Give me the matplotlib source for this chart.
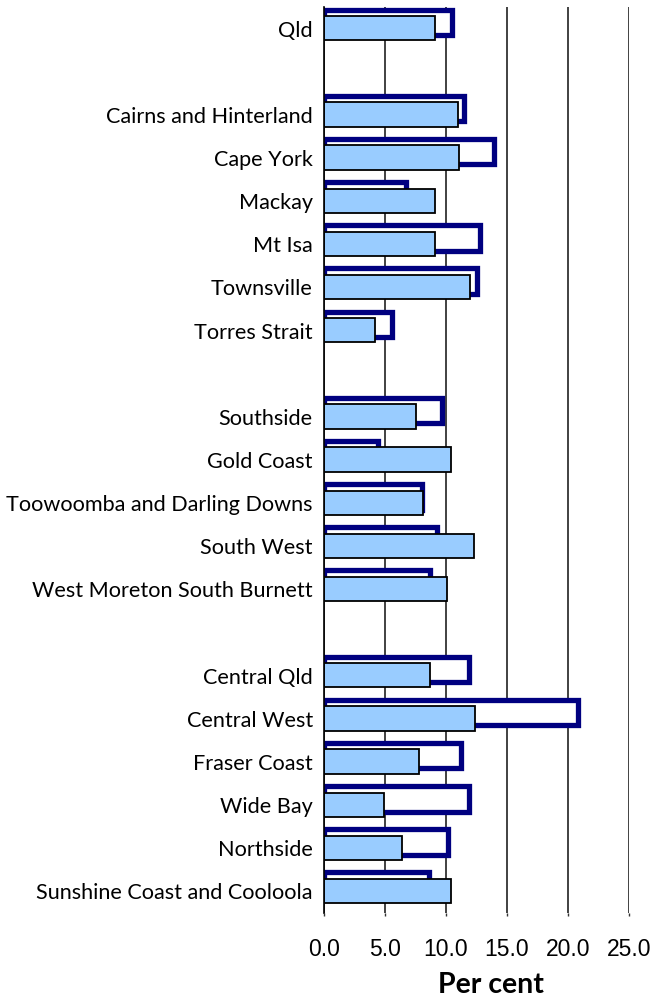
import numpy as np
import matplotlib.pyplot as plt

# groups of districts, separated by a blank row in the chart
groups = [
    ["Qld"],
    ["Cairns and Hinterland", "Cape York", "Mackay", "Mt Isa", "Townsville", "Torres Strait"],
    ["Southside", "Gold Coast", "Toowoomba and Darling Downs", "South West",
     "West Moreton South Burnett"],
    ["Central Qld", "Central West", "Fraser Coast", "Wide Bay", "Northside",
     "Sunshine Coast and Cooloola"],
]
# outlined (navy) series
outline_vals = [
    [10.5],
    [11.5, 13.9, 6.7, 12.8, 12.5, 5.6],
    [9.7, 4.4, 8.0, 9.3, 8.7],
    [11.85, 20.8, 11.2, 11.85, 10.2, 8.6],
]
# filled (light blue) series
filled_vals = [
    [9.1],
    [11.0, 11.1, 9.1, 9.1, 12.0, 4.2],
    [7.5, 10.4, 8.1, 12.3, 10.1],
    [8.7, 12.4, 7.8, 4.9, 6.4, 10.4],
]

labels, pos, v_out, v_fill = [], [], [], []
p = 0
for g, o, f in zip(groups, outline_vals, filled_vals):
    for lab, a, b in zip(g, o, f):
        labels.append(lab)
        pos.append(p)
        v_out.append(a)
        v_fill.append(b)
        p += 1
    p += 1  # blank row
pos = np.array(pos)
n_rows = p - 1

fig = plt.figure(figsize=(6.59, 10.06), dpi=100)
ax = fig.add_axes([324 / 659, 1 - 913 / 1006, 305 / 659, 906 / 1006])

ax.barh(pos - 0.145, v_out, height=0.59, left=0, color="white",
        edgecolor="#000080", linewidth=3.8, zorder=2)
ax.barh(pos - 0.01, v_fill, height=0.565, left=0, color="#99CCFF",
        edgecolor="black", linewidth=1.3, zorder=3)

ticks = np.arange(0, 26, 5)
ax.set_xlim(0, 25)
ax.set_ylim(n_rows - 0.5, -0.5)
ax.set_xticks(ticks)
ax.set_xticklabels([f"{t:.1f}" for t in ticks])
for t in ax.get_xticklabels():
    t.set_fontfamily(["Liberation Sans"])
    t.set_fontsize(16.5)
ax.tick_params(axis="x", length=2, width=1, color="#333333", pad=16)
ax.set_yticks(pos)
ax.set_yticklabels(labels)
for t in ax.get_yticklabels():
    t.set_fontfamily(["Lato"])
    t.set_fontsize(15.6)
ax.tick_params(axis="y", length=0, pad=8)

ax.grid(axis="x", color="#333333", linewidth=1.3, zorder=1)
ax.set_axisbelow(True)
for side in ["top", "right", "bottom"]:
    ax.spines[side].set_visible(False)
ax.spines["left"].set_color("black")
ax.spines["left"].set_linewidth(1.2)
ax.spines["left"].set_zorder(4)

fig.text(491 / 659, 1 - 985 / 1006, "Per cent", ha="center", va="center",
         fontfamily="Lato", fontweight="bold", fontsize=20.5)

fig.savefig("out.png", dpi=100)
